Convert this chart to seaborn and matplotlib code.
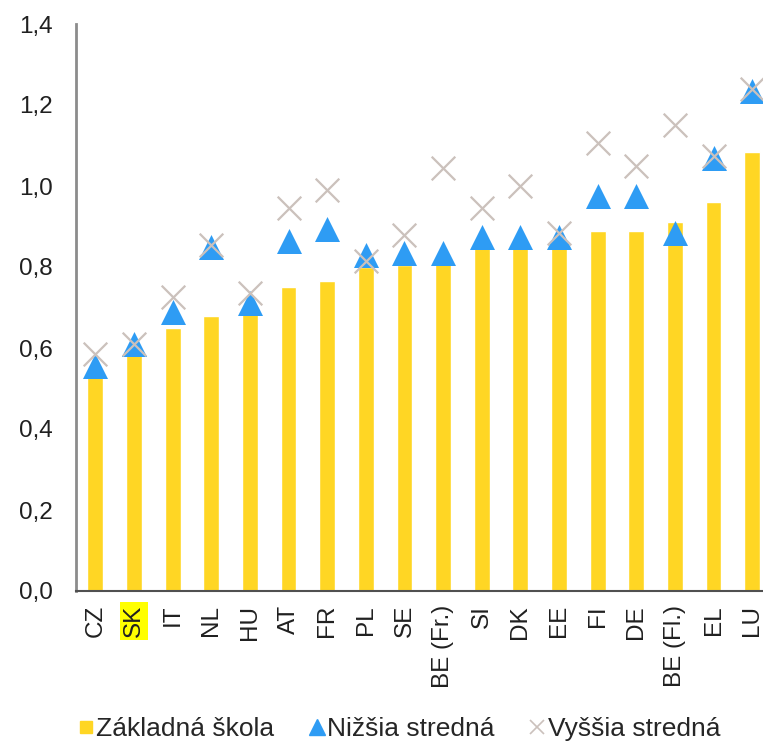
#!/usr/bin/env python3
"""Bar + marker chart: Základná / Nižšia / Vyššia stredná by country."""

import matplotlib.pyplot as plt
import matplotlib.ticker as mticker
import pandas as pd
import seaborn as sns
from matplotlib.lines import Line2D

sns.set_theme(style="white")
plt.rcParams["font.family"] = ["Liberation Sans", "DejaVu Sans"]

countries = ["CZ", "SK", "IT", "NL", "HU", "AT", "FR", "PL", "SE", "BE (Fr.)",
             "SI", "DK", "EE", "FI", "DE", "BE (Fl.)", "EL", "LU"]
zakladna = [0.53, 0.59, 0.65, 0.68, 0.69, 0.75, 0.765, 0.80, 0.805, 0.82,
            0.85, 0.85, 0.86, 0.89, 0.89, 0.91, 0.96, 1.085]
nizsia = [0.555, 0.61, 0.69, 0.85, 0.71, 0.865, 0.895, 0.83, 0.835, 0.835,
          0.875, 0.875, 0.875, 0.975, 0.975, 0.885, 1.07, 1.235]
vyssia = [0.585, 0.61, 0.725, 0.855, 0.735, 0.945, 0.99, 0.815, 0.88, 1.045,
          0.945, 1.0, 0.885, 1.105, 1.05, 1.15, 1.075, 1.24]
labels = ["Základná škola", "Nižšia stredná", "Vyššia stredná"]

YELLOW = "#FFD624"
BLUE = "#2E9CF4"
GREY = "#CBC1BC"

df = pd.DataFrame({"country": countries, "z": zakladna, "n": nizsia, "v": vyssia})

fig = plt.figure(figsize=(7.63, 7.43), dpi=100)
ax = fig.add_axes([76 / 763, 152 / 743, 687 / 763, 567 / 743])

sns.barplot(data=df, x="country", y="z", color=YELLOW, width=0.41,
            saturation=1, ax=ax)
sns.scatterplot(data=df, x="country", y="n", marker="^", color=BLUE,
                s=18 ** 2, linewidth=0, ax=ax, zorder=3)
sns.scatterplot(data=df, x="country", y="v", marker="x", color=GREY,
                s=17 ** 2, linewidth=1.6, ax=ax, zorder=4)

ax.set_xlim(-0.5, 17.28)
ax.set_ylim(0, 1.4)
ax.set_yticks([i * 0.2 for i in range(8)])
ax.yaxis.set_major_formatter(mticker.FuncFormatter(lambda v, _: f"{v:.1f}".replace(".", ",")))
ax.set_xlabel("")
ax.set_ylabel("")
ax.tick_params(axis="y", length=0, pad=17, labelsize=17.5, labelcolor="#202020")
ax.tick_params(axis="x", length=0, pad=10, labelsize=17.5, labelcolor="#202020",
               labelrotation=90)

for lbl in ax.get_xticklabels():
    if lbl.get_text() == "SK":
        lbl.set_bbox(dict(facecolor="#FFFF00", edgecolor="none", pad=2))

for side in ("top", "right"):
    ax.spines[side].set_visible(False)
ax.spines["left"].set_color("#8C8C8C")
ax.spines["left"].set_linewidth(2)
ax.spines["bottom"].set_color("#505050")
ax.spines["bottom"].set_linewidth(1.5)

handles = [
    Line2D([], [], linestyle="none", marker="s", markersize=9, color=YELLOW),
    Line2D([], [], linestyle="none", marker="^", markersize=11, color=BLUE),
    Line2D([], [], linestyle="none", marker="x", markersize=10, color=GREY, mew=1.2),
]
fig.legend(handles, labels, loc="lower center", bbox_to_anchor=(0.523, -0.029),
           ncol=3, frameon=False, fontsize=19, handlelength=0.6,
           handletextpad=0.1, columnspacing=1.3)

fig.savefig("out.png", dpi=100)
